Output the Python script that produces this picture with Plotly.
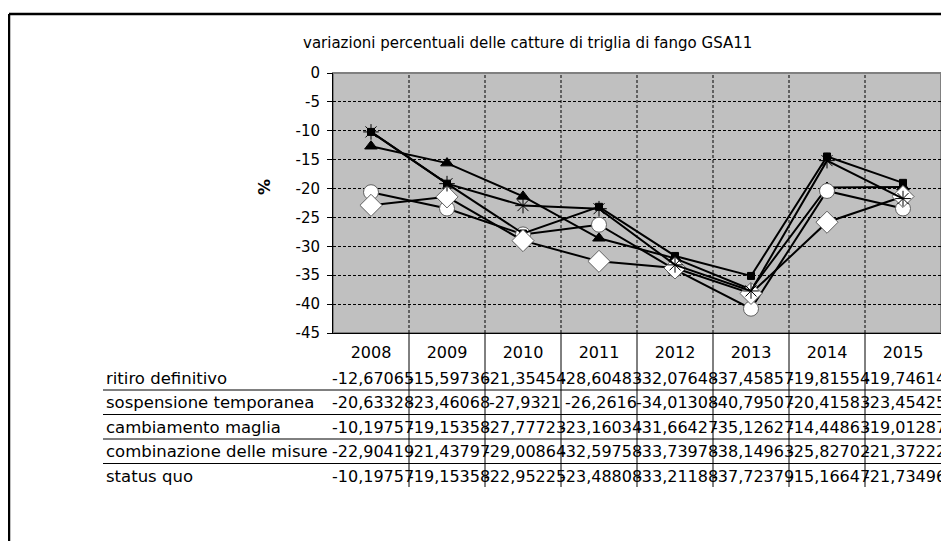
import plotly.graph_objects as go

# dati (variazioni % delle catture)
anni = ["2008", "2009", "2010", "2011", "2012", "2013", "2014", "2015"]
ritiro_definitivo = [-12.67065, -15.59736, -21.35454, -28.60483, -32.07648, -37.45857, -19.81554, -19.74614]
sospensione_temporanea = [-20.63328, -23.46068, -27.9321, -26.2616, -34.01308, -40.79507, -20.41583, -23.45425]
cambiamento_maglia = [-10.19757, -19.15358, -27.77723, -23.16034, -31.66427, -35.12627, -14.44863, -19.01287]
combinazione_misure = [-22.90419, -21.43797, -29.00864, -32.59758, -33.73978, -38.14963, -25.82702, -21.37222]
status_quo = [-10.19757, -19.15358, -22.95225, -23.48808, -33.21188, -37.72379, -15.16647, -21.73496]
y_ticks = [0, -5, -10, -15, -20, -25, -30, -35, -40, -45]

serie = [
    ("ritiro definitivo", ritiro_definitivo,
     dict(symbol="triangle-up", size=11, color="black", line=dict(color="black", width=1))),
    ("sospensione temporanea", sospensione_temporanea,
     dict(symbol="circle", size=15, color="white", line=dict(color="#606060", width=1))),
    ("cambiamento maglia", cambiamento_maglia,
     dict(symbol="square", size=7, color="black", line=dict(color="black", width=1))),
    ("combinazione delle misure", combinazione_misure,
     dict(symbol="diamond", size=17, color="white", line=dict(color="#606060", width=1))),
    ("status quo", status_quo,
     dict(symbol="asterisk-open", size=13, color="black", line=dict(color="black", width=1))),
]

# la pagina html ha un margine di 8px: le coordinate sotto sono quelle della finestra
OFF = 8
W, H = 949 - OFF, 541 - OFF
L, R, T, B = 333 - OFF, 941 - OFF, 73 - OFF, 333 - OFF  # area del grafico


def py(y):
    return (B - (y - OFF)) / (B - T)


def px(x):
    return ((x - OFF) - L) / (R - L)


FONT = "DejaVu Sans"
xs = list(range(len(anni)))

fig = go.Figure()
for nome, valori, marker in serie:
    fig.add_trace(go.Scatter(
        x=xs, y=valori, name=nome, mode="lines+markers",
        line=dict(color="black", width=2), marker=marker,
        cliponaxis=False,
    ))

shapes = []
# bordo area grafico
shapes.append(dict(type="rect", xref="paper", yref="paper", x0=0, x1=1, y0=0, y1=1,
                   line=dict(color="#808080", width=2), layer="below"))
for i in range(len(anni) - 1):
    xb = i + 0.5
    # griglia verticale tratteggiata
    shapes.append(dict(type="line", xref="x", yref="paper", x0=xb, x1=xb, y0=0, y1=1,
                       line=dict(color="black", width=1, dash="3px,2px"), layer="below"))
    # linee della tabella
    shapes.append(dict(type="line", xref="x", yref="paper", x0=xb, x1=xb, y0=0, y1=py(487),
                       line=dict(color="black", width=1)))

righe_y = [378, 402.5, 427, 451.5, 476]
for yl in [390, 414.5, 439, 463.5]:
    shapes.append(dict(type="line", xref="paper", yref="paper", x0=px(103), x1=px(941),
                       y0=py(yl), y1=py(yl), line=dict(color="black", width=1)))

# cornice esterna
shapes.append(dict(type="line", xref="paper", yref="paper", x0=px(9), x1=px(960),
                   y0=py(14), y1=py(14), line=dict(color="black", width=2.5)))
shapes.append(dict(type="line", xref="paper", yref="paper", x0=px(9), x1=px(9),
                   y0=py(14), y1=py(560), line=dict(color="black", width=2.5)))

annotations = []
for (nome, valori, _), yr in zip(serie, righe_y):
    annotations.append(dict(xref="paper", yref="paper", x=px(104), y=py(yr), text=nome,
                            showarrow=False, xanchor="left", yanchor="middle",
                            font=dict(family=FONT, size=16.5, color="black")))
    for i, v in enumerate(valori):
        annotations.append(dict(xref="x", yref="paper", x=i + 0.02, y=py(yr),
                                text=str(v).replace(".", ","), showarrow=False,
                                xanchor="center", yanchor="middle",
                                font=dict(family=FONT, size=16, color="black")))

annotations.append(dict(xref="paper", yref="paper", x=px(527), y=py(43),
                        text="variazioni percentuali delle catture di triglia di fango GSA11",
                        showarrow=False, xanchor="center", yanchor="middle",
                        font=dict(family=FONT, size=15, color="black")))
annotations.append(dict(xref="paper", yref="paper", x=px(264), y=py(187), text="<b>%</b>",
                        textangle=-90, showarrow=False, xanchor="center", yanchor="middle",
                        font=dict(family=FONT, size=16, color="black")))

fig.update_layout(
    width=W, height=H,
    margin=dict(l=L, r=W - R, t=T, b=H - B),
    paper_bgcolor="white",
    plot_bgcolor="#c0c0c0",
    showlegend=False,
    shapes=shapes,
    annotations=annotations,
    xaxis=dict(
        range=[-0.5, len(anni) - 0.5],
        tickmode="array", tickvals=xs, ticktext=anni,
        ticks="", showgrid=False, zeroline=False,
        showline=True, linecolor="black", linewidth=1,
        tickfont=dict(family=FONT, size=16, color="black"),
        ticklabelstandoff=5,
    ),
    yaxis=dict(
        range=[-45, 0],
        tickmode="array", tickvals=y_ticks, ticktext=[str(t) for t in y_ticks],
        ticks="outside", ticklen=5, tickcolor="black",
        showgrid=True, gridcolor="black", gridwidth=1, griddash="3px,2px",
        zeroline=False, showline=True, linecolor="black", linewidth=1,
        tickfont=dict(family=FONT, size=15, color="black"),
        ticklabelstandoff=4,
    ),
)

fig.write_html("out.html")
